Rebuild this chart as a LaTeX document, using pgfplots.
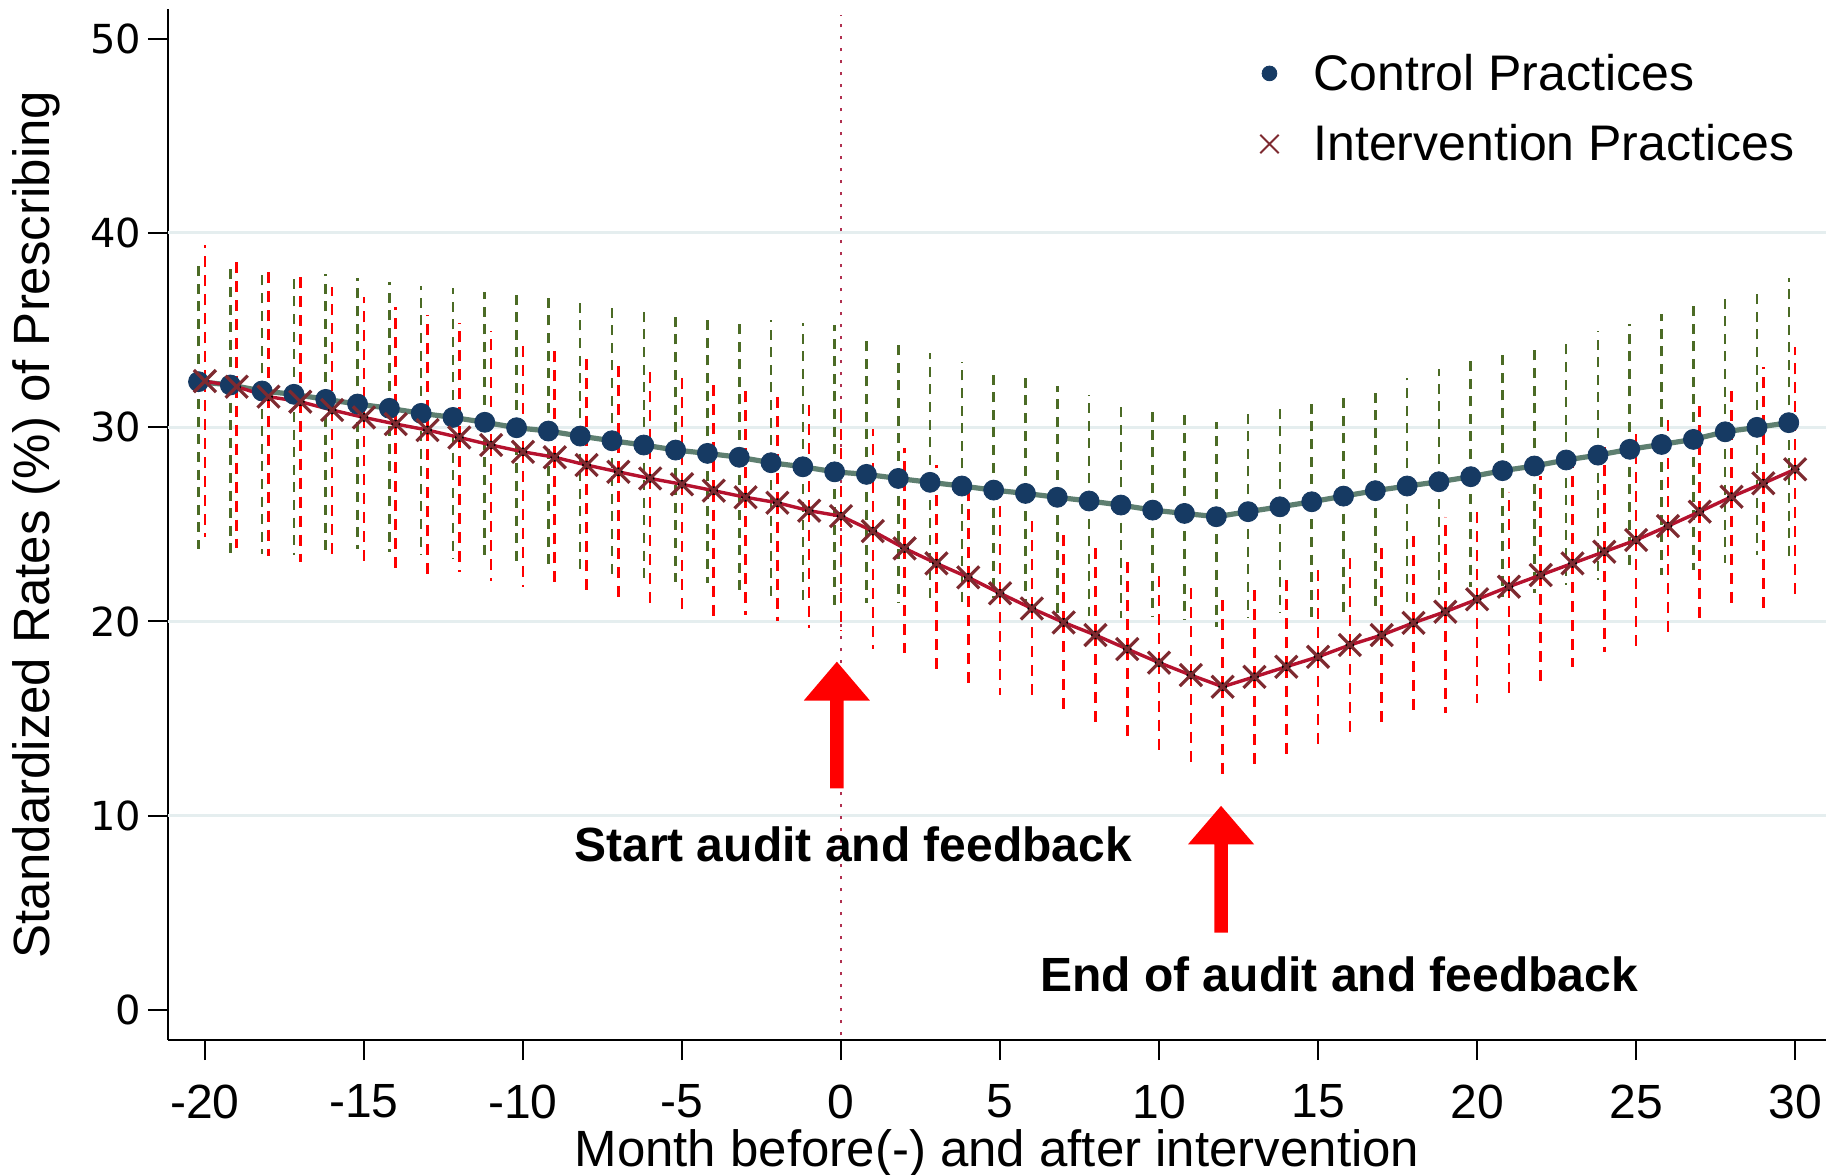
\documentclass[border=0pt]{standalone}
\usepackage{pgfplots}
\usepackage{pgfplotstable}
\pgfplotsset{compat=1.18}
\usepackage{fontspec}
\setmainfont{Liberation Sans}
\newfontfamily\dejavu{DejaVu Sans}

\definecolor{ctrldot}{HTML}{163A63}
\definecolor{ctrlline}{HTML}{5E7F70}
\definecolor{intcross}{HTML}{7E2A30}
\definecolor{intline}{HTML}{B5122E}
\definecolor{ciG}{HTML}{4B6B25}
\definecolor{ciR}{HTML}{FF0000}
\definecolor{gridc}{HTML}{E5EEEF}
\definecolor{vline}{HTML}{B03050}

\pgfplotstableread{
x m u l
-20 32.34 38.48 23.71
-19 32.17 38.34 23.54
-18 31.86 38.17 23.47
-17 31.69 37.97 23.42
-16 31.43 37.86 23.30
-15 31.19 37.66 23.71
-14 30.97 37.49 23.59
-13 30.71 37.28 23.42
-12 30.50 37.14 23.25
-11 30.25 36.97 23.07
-10 29.97 36.80 22.90
-9 29.80 36.63 22.73
-8 29.54 36.49 22.47
-7 29.30 36.28 22.39
-6 29.08 36.11 22.22
-5 28.82 36.03 22.05
-4 28.65 35.77 21.96
-3 28.45 35.65 21.27
-2 28.17 35.51 21.02
-1 27.96 35.34 20.84
0 27.70 35.25 20.67
1 27.57 34.74 20.93
2 27.36 34.31 20.93
3 27.16 33.83 21.10
4 26.97 33.37 20.93
5 26.76 32.90 21.20
6 26.59 32.51 21.02
7 26.39 32.12 20.45
8 26.20 31.65 20.28
9 25.99 31.22 20.16
10 25.73 30.92 20.24
11 25.56 30.62 20.07
12 25.39 30.28 19.73
13 25.65 30.71 20.16
14 25.90 30.97 20.45
15 26.16 31.36 20.24
16 26.45 31.74 20.41
17 26.73 32.05 20.50
18 26.97 32.54 20.84
19 27.19 32.97 21.36
20 27.45 33.45 21.79
21 27.76 33.88 21.27
22 28.00 34.26 21.45
23 28.31 34.57 21.87
24 28.56 34.95 22.13
25 28.86 35.31 22.56
26 29.11 35.80 22.39
27 29.37 36.37 22.65
28 29.76 36.89 22.99
29 29.99 37.23 23.42
30 30.23 37.66 23.07
}\ctrl

\pgfplotstableread{
x m u l
-20 32.37 39.37 24.36
-19 32.08 38.86 23.76
-18 31.57 38.29 23.37
-17 31.31 37.74 23.07
-16 30.88 37.23 23.33
-15 30.50 36.71 22.78
-14 30.16 36.20 22.47
-13 29.85 35.77 22.30
-12 29.47 35.37 22.56
-11 29.08 34.96 22.10
-10 28.73 34.52 21.75
-9 28.45 34.10 21.62
-8 28.05 33.71 21.41
-7 27.70 33.37 21.10
-6 27.36 33.02 20.67
-5 27.06 32.68 20.42
-4 26.73 32.34 20.07
-3 26.39 32.00 20.33
-2 26.11 31.74 20.04
-1 25.70 31.31 19.64
0 25.42 30.97 19.50
1 24.65 29.88 18.56
2 23.76 28.91 18.36
3 22.99 28.05 17.50
4 22.27 26.85 16.85
5 21.45 26.42 16.21
6 20.67 25.48 16.00
7 19.95 24.62 15.23
8 19.30 23.93 14.45
9 18.58 23.25 13.81
10 17.88 22.47 13.18
11 17.24 21.87 12.61
12 16.64 21.19 12.15
13 17.15 21.82 12.52
14 17.67 22.39 12.95
15 18.18 22.99 13.55
16 18.79 23.54 14.10
17 19.30 24.15 14.72
18 19.93 24.70 15.27
19 20.50 25.39 15.30
20 21.14 25.94 15.78
21 21.79 26.68 16.33
22 22.39 27.48 16.95
23 22.99 28.14 17.67
24 23.59 28.96 18.44
25 24.19 29.76 18.56
26 24.91 30.62 19.13
27 25.65 31.48 19.81
28 26.42 32.22 20.59
29 27.11 33.11 20.67
30 27.83 34.10 21.27
}\intv

\begin{document}
\begin{tikzpicture}
\useasboundingbox (0,0) rectangle (918.5pt,587pt);
\begin{axis}[
  at={(84pt,67pt)}, anchor=south west,
  scale only axis, width=829pt, height=515.5pt,
  xmin=-21.16, xmax=30.97, ymin=-1.54, ymax=51.52,
  axis x line*=bottom, axis y line*=left,
  axis line style={line width=1.1pt, black},
  tick align=outside, major tick length=10pt,
  tick style={line width=1pt, black},
  xtick={-20,-15,...,30},
  xticklabels={-20,-15,-10,-5,0,5,10,15,20,25,30},
  ytick={0,10,...,50},
  yticklabels={0,10,20,30,40,50},
  xticklabel style={font=\fontsize{24}{24}\selectfont, yshift=-8.8pt},
  yticklabel style={font=\dejavu\fontsize{20}{20}\selectfont},
  xlabel={Month before(-) and after intervention},
  ylabel={Standardized Rates (\%) of Prescribing},
  xlabel style={font=\fontsize{25.5}{30}\selectfont, at={(rel axis cs:0.5,-0.1223)}, anchor=base},
  ylabel style={font=\fontsize{25.5}{30}\selectfont, at={(rel axis cs:-0.0716,0.5)}, anchor=base, rotate=0},
  clip=false,
  legend cell align=left,
  legend image code/.code={\path[draw=none,fill=none] (0pt,-8pt) (20pt,8pt); \draw[#1] plot coordinates {(0pt,0pt)};},
  legend style={draw=none, fill=none, at={(axis cs:13.17,49.44)}, anchor=north west,
    inner sep=0pt, row sep=11.7pt, font=\fontsize{25}{30}\selectfont},
]
\pgfplotsinvokeforeach{10,20,30,40}{
  \draw[gridc, line width=1.6pt] (axis cs:-21.16,#1) -- (axis cs:30.97,#1);
}
\draw[vline, line width=1.2pt, dash pattern=on 1.5pt off 4.5pt] (axis cs:0,-1.3) -- (axis cs:0,51.2);

\addplot[forget plot, only marks, mark=none,
  error bars/.cd, y dir=both, y explicit, error mark=none,
  error bar style={ciG, line width=1.3pt, dash pattern=on 5pt off 3.8pt}]
  table[x expr=\thisrow{x}-0.2, y=m, y error plus expr=\thisrow{u}-\thisrow{m}, y error minus expr=\thisrow{m}-\thisrow{l}] {\ctrl};
\addplot[forget plot, only marks, mark=none,
  error bars/.cd, y dir=both, y explicit, error mark=none,
  error bar style={ciR, line width=1.3pt, dash pattern=on 5.5pt off 4pt}]
  table[x=x, y=m, y error plus expr=\thisrow{u}-\thisrow{m}, y error minus expr=\thisrow{m}-\thisrow{l}] {\intv};

\addplot[only marks, mark=*, mark size=5pt, color=ctrldot, mark options={draw=ctrldot, fill=ctrldot},
  legend image post style={mark size=3.7pt}]
  table[x expr=\thisrow{x}-0.2, y=m] {\ctrl};
\addlegendentry{Control Practices}
\addplot[forget plot, no marks, ctrlline, line width=2.6pt] table[x expr=\thisrow{x}-0.2, y=m] {\ctrl};

\addplot[only marks, mark=x, mark size=7.8pt, color=intcross, mark options={line width=1.6pt},
  legend image post style={mark size=6.5pt, mark options={line width=1pt}}]
  table[x=x, y=m] {\intv};
\addlegendentry{Intervention Practices}
\addplot[forget plot, no marks, intline, line width=1.7pt] table[x=x, y=m] {\intv};

\fill[red] (axis cs:-0.34,11.41) -- (axis cs:0.08,11.41) -- (axis cs:0.08,15.93) -- (axis cs:0.91,15.93)
  -- (axis cs:-0.13,17.93) -- (axis cs:-1.17,15.93) -- (axis cs:-0.34,15.93) -- cycle;
\fill[red] (axis cs:11.74,3.98) -- (axis cs:12.16,3.98) -- (axis cs:12.16,8.53) -- (axis cs:12.99,8.53)
  -- (axis cs:11.95,10.51) -- (axis cs:10.91,8.53) -- (axis cs:11.74,8.53) -- cycle;

\node[anchor=base, font=\bfseries\fontsize{24}{24}\selectfont, inner sep=0pt] at (axis cs:0.38,7.63) {Start audit and feedback};
\node[anchor=base, font=\bfseries\fontsize{24}{24}\selectfont, inner sep=0pt] at (axis cs:15.66,0.94) {End of audit and feedback};
\end{axis}
\end{tikzpicture}
\end{document}
